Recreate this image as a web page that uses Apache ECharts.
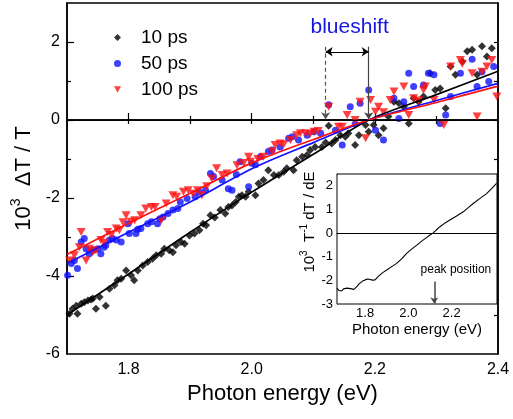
<!DOCTYPE html>
<html><head><meta charset="utf-8">
<script src="https://cdn.jsdelivr.net/npm/echarts@6/dist/echarts.min.js"></script>
<style>html,body{margin:0;padding:0;background:#fff}#c{width:513px;height:419px}</style>
</head><body><div id="c"></div>
<script>
const FONT = "'Liberation Sans', Arial, sans-serif";
// ---- data ----
const seriesNames = ['10 ps', '50 ps', '100 ps'];
const black10 = [[1.704,-4.97],[1.709,-4.84],[1.715,-4.76],[1.717,-4.97],[1.723,-4.71],[1.728,-4.67],[1.734,-4.63],[1.739,-4.60],[1.742,-4.58],[1.747,-4.84],[1.753,-4.54],[1.763,-4.76],[1.769,-4.33],[1.777,-4.24],[1.782,-4.11],[1.788,-4.07],[1.796,-3.86],[1.804,-3.98],[1.809,-4.11],[1.815,-3.86],[1.823,-3.73],[1.831,-3.64],[1.839,-3.56],[1.845,-3.47],[1.853,-3.43],[1.858,-3.30],[1.866,-3.34],[1.872,-3.39],[1.877,-3.21],[1.885,-3.13],[1.891,-3.17],[1.899,-2.96],[1.907,-2.91],[1.915,-2.83],[1.921,-2.66],[1.926,-2.70],[1.933,-2.44],[1.940,-2.50],[1.949,-2.31],[1.957,-2.40],[1.962,-2.23],[1.968,-2.19],[1.974,-2.10],[1.979,-1.97],[1.984,-1.93],[1.990,-1.97],[1.995,-1.84],[2.006,-1.93],[2.011,-1.63],[2.019,-1.54],[2.027,-1.29],[2.036,-1.41],[2.044,-1.41],[2.052,-1.33],[2.057,-1.24],[2.068,-1.29],[2.073,-1.03],[2.082,-0.94],[2.090,-0.90],[2.095,-0.77],[2.103,-0.69],[2.114,-0.69],[2.120,-0.58],[2.125,-0.15],[2.130,-0.60],[2.136,-0.51],[2.144,-0.39],[2.152,-0.43],[2.157,-0.34],[2.168,-0.64],[2.174,-0.39],[2.185,-0.13],[2.190,-0.30],[2.198,-0.13],[2.206,-0.39],[2.214,-0.21],[2.222,0.09],[2.231,0.47],[2.239,0.43],[2.247,0.34],[2.255,-0.09],[2.263,0.56],[2.271,0.47],[2.279,0.60],[2.290,1.20],[2.298,0.77],[2.306,0.81],[2.315,0.30],[2.323,1.37],[2.331,1.16],[2.342,1.50],[2.350,1.76],[2.358,1.80],[2.366,1.16],[2.374,1.89],[2.382,1.63],[2.390,1.84]];
const blue50 = [[1.701,-3.98],[1.707,-3.68],[1.712,-3.60],[1.717,-3.81],[1.723,-3.13],[1.728,-3.04],[1.731,-3.30],[1.736,-3.43],[1.742,-3.34],[1.750,-3.30],[1.755,-3.43],[1.760,-3.26],[1.763,-3.21],[1.769,-3.08],[1.774,-3.04],[1.780,-3.08],[1.788,-3.13],[1.799,-2.66],[1.801,-2.91],[1.812,-2.91],[1.815,-2.80],[1.820,-2.78],[1.831,-2.66],[1.837,-2.61],[1.847,-2.66],[1.851,-2.53],[1.856,-2.49],[1.864,-2.40],[1.872,-2.31],[1.880,-2.27],[1.884,-2.10],[1.895,-2.01],[1.908,-1.97],[1.915,-1.85],[1.925,-1.80],[1.933,-1.37],[1.938,-1.45],[1.952,-1.54],[1.962,-1.76],[1.968,-1.80],[1.975,-1.40],[1.981,-1.07],[1.995,-1.71],[2.000,-1.11],[2.006,-1.15],[2.014,-0.94],[2.027,-0.81],[2.033,-0.77],[2.046,-0.69],[2.060,-0.47],[2.066,-0.43],[2.076,-0.51],[2.090,-0.39],[2.101,-0.30],[2.112,-0.34],[2.125,0.39],[2.136,-0.26],[2.147,-0.64],[2.160,0.34],[2.168,-0.10],[2.176,0.43],[2.190,0.77],[2.201,-0.26],[2.214,-0.51],[2.231,0.56],[2.239,0.04],[2.247,0.47],[2.255,1.20],[2.263,0.86],[2.279,0.90],[2.287,1.20],[2.296,1.16],[2.306,-0.09],[2.315,0.13],[2.323,0.60],[2.339,1.20],[2.358,1.56],[2.366,0.86],[2.374,1.24],[2.385,0.99],[2.393,1.37]];
const red100 = [[1.704,-3.60],[1.712,-3.47],[1.720,-3.26],[1.723,-2.87],[1.731,-3.60],[1.736,-3.30],[1.742,-3.39],[1.747,-3.34],[1.755,-3.08],[1.760,-3.15],[1.766,-2.87],[1.772,-2.95],[1.780,-2.78],[1.785,-2.83],[1.791,-2.62],[1.796,-2.44],[1.804,-2.61],[1.810,-2.57],[1.820,-2.44],[1.828,-2.27],[1.837,-2.23],[1.843,-2.23],[1.853,-2.57],[1.861,-2.14],[1.872,-1.93],[1.878,-1.97],[1.889,-1.84],[1.897,-1.80],[1.905,-1.89],[1.912,-1.80],[1.919,-1.93],[1.927,-1.70],[1.935,-1.50],[1.943,-1.24],[1.952,-1.41],[1.960,-1.37],[1.976,-1.16],[1.987,-1.10],[1.995,-0.94],[1.998,-1.07],[2.010,-1.00],[2.019,-0.94],[2.033,-0.81],[2.038,-0.64],[2.046,-0.60],[2.052,-0.62],[2.063,-0.51],[2.073,-0.39],[2.079,-0.34],[2.087,-0.34],[2.095,-0.36],[2.101,-0.30],[2.108,-0.28],[2.125,0.34],[2.141,-0.17],[2.147,-0.17],[2.155,0.13],[2.168,0.00],[2.176,0.47],[2.185,-0.47],[2.193,0.51],[2.201,0.21],[2.206,0.34],[2.214,0.20],[2.225,0.51],[2.231,0.73],[2.247,0.86],[2.255,0.13],[2.263,0.56],[2.271,0.50],[2.279,0.77],[2.282,0.86],[2.296,0.51],[2.312,-0.13],[2.323,1.37],[2.339,1.54],[2.342,1.44],[2.358,1.20],[2.366,0.09],[2.374,1.24],[2.382,1.37],[2.390,1.54],[2.398,0.60]];
const fitX = [1.70, 1.80, 1.90, 2.00, 2.10, 2.19, 2.30, 2.40];
const blackFitY = [-5.00, -3.95, -2.88, -1.85, -0.88, 0.00, 0.65, 1.25];
const blueFitY = [-3.68, -2.88, -2.10, -1.25, -0.58, 0.00, 0.50, 0.94];
const redFitY = [-3.45, -2.65, -1.88, -1.10, -0.50, 0.00, 0.45, 0.87];
const insetX = [1.670,1.678,1.685,1.692,1.700,1.708,1.716,1.724,1.732,1.740,1.748,1.756,1.764,1.772,1.780,1.790,1.800,1.812,1.823,1.834,1.846,1.858,1.869,1.885,1.900,1.923,1.946,1.970,1.992,2.015,2.039,2.062,2.085,2.100,2.115,2.130,2.146,2.170,2.192,2.223,2.254,2.280,2.300,2.330,2.362,2.385,2.408];
const insetY = [-2.33,-2.42,-2.38,-2.45,-2.36,-2.38,-2.33,-2.38,-2.35,-2.40,-2.38,-2.33,-2.24,-2.15,-2.08,-2.02,-1.98,-1.94,-1.96,-1.99,-1.98,-1.86,-1.77,-1.65,-1.56,-1.42,-1.28,-1.08,-0.86,-0.68,-0.51,-0.34,-0.18,-0.08,0.01,0.14,0.27,0.43,0.55,0.72,0.90,1.10,1.25,1.46,1.67,1.88,2.10];
const mainXLabels = [1.8, 2.0, 2.2, 2.4];
const mainYLabels = [-6, -4, -2, 0, 2];
const insetXLabels = [1.8, 2.0, 2.2];
const insetYLabels = [-3, -2, -1, 0, 1, 2];
const blueshiftFrom = 2.12, blueshiftTo = 2.19, peakPosition = 2.12;

const zip = (xs, ys) => xs.map((x, i) => [x, ys[i]]);
const DOWN_TRI = 'path://M0,0 L10,0 L5,9 Z';
const C_BLACK = '#000000', C_BLUE = '#1010ff', C_RED = '#ff1010';

const chart = echarts.init(document.getElementById('c'), null, {renderer: 'canvas'});
const axisLineStyle = {show: true, lineStyle: {color: '#000', width: 1.5}};
const tickStyle = {color: '#000', width: 1.2};

const option = {
  animation: false,
  textStyle: {fontFamily: FONT},
  grid: [
    {left: 67, top: 3, right: 15, bottom: 65, show: true, borderColor: '#000', borderWidth: 1.5, backgroundColor: 'transparent'},
    {left: 337, top: 174, right: 16, bottom: 115, show: true, borderColor: '#000', borderWidth: 1, backgroundColor: '#fff', z: 3}
  ],
  legend: {
    data: seriesNames.map(n => ({name: n})),
    orient: 'vertical', left: 109, top: 23,
    itemWidth: 7, itemHeight: 7, itemGap: 7,
    textStyle: {fontSize: 19, color: '#000', fontFamily: FONT, lineHeight: 19, padding: [0, 0, 0, 15]},
    selectedMode: false
  },
  xAxis: [
    {gridIndex: 0, type: 'value', min: 1.7, max: 2.4, position: 'bottom', axisLine: axisLineStyle,
     axisTick: {inside: true, length: 7, customValues: [1.8, 2.0, 2.2], lineStyle: tickStyle},
     axisLabel: {customValues: mainXLabels, fontSize: 16, color: '#000', margin: 8, formatter: v => v.toFixed(1)},
     splitLine: {show: false},
     name: 'Photon energy (eV)', nameLocation: 'middle', nameGap: 28, nameTextStyle: {fontSize: 22, color: '#000'}},
    {gridIndex: 0, type: 'value', min: 1.7, max: 2.4, position: 'bottom', axisLine: {show: false},
     axisTick: {inside: true, length: 4, customValues: [1.9, 2.1, 2.3], lineStyle: tickStyle},
     axisLabel: {show: false}, splitLine: {show: false}},
    {gridIndex: 0, type: 'value', min: 1.7, max: 2.4, position: 'top', axisLine: axisLineStyle,
     axisTick: {inside: true, length: 4, customValues: [1.8, 1.9, 2.0, 2.1, 2.2, 2.3], lineStyle: tickStyle},
     axisLabel: {show: false}, splitLine: {show: false}},
    {gridIndex: 1, type: 'value', min: 1.67, max: 2.41, position: 'bottom', axisLine: {show: true, lineStyle: {color: '#000', width: 1}},
     axisTick: {inside: true, length: 3, customValues: [1.8, 1.9, 2.0, 2.1, 2.2, 2.3], lineStyle: {color: '#000'}},
     axisLabel: {customValues: insetXLabels, fontSize: 13, color: '#000', margin: 3, formatter: v => v.toFixed(1)},
     splitLine: {show: false},
     name: 'Photon energy (eV)', nameLocation: 'middle', nameGap: 18, nameTextStyle: {fontSize: 15, color: '#000'}},
    {gridIndex: 1, type: 'value', min: 1.67, max: 2.41, position: 'top', axisLine: {show: true, lineStyle: {color: '#000', width: 1}},
     axisTick: {inside: true, length: 3, customValues: [1.8, 1.9, 2.0, 2.1, 2.2, 2.3], lineStyle: {color: '#000'}},
     axisLabel: {show: false}, splitLine: {show: false}}
  ],
  yAxis: [
    {gridIndex: 0, type: 'value', min: -6, max: 3, position: 'left', axisLine: axisLineStyle,
     axisTick: {inside: true, length: 7, customValues: [-4, -2, 0, 2], lineStyle: tickStyle},
     axisLabel: {customValues: mainYLabels, fontSize: 16, color: '#000', margin: 7},
     splitLine: {show: false},
     name: '{n|10}{s|3}{n|  ΔT / T}', nameLocation: 'middle', nameGap: 31, nameRotate: 90,
     nameTextStyle: {rich: {n: {fontSize: 22, color: '#000', fontFamily: FONT, lineHeight: 26, verticalAlign: 'bottom'},
                            s: {fontSize: 14, color: '#000', fontFamily: FONT, lineHeight: 26, verticalAlign: 'top'}}}},
    {gridIndex: 0, type: 'value', min: -6, max: 3, position: 'left', axisLine: {show: false},
     axisTick: {inside: true, length: 4, customValues: [-5, -3, -1, 1], lineStyle: tickStyle},
     axisLabel: {show: false}, splitLine: {show: false}},
    {gridIndex: 0, type: 'value', min: -6, max: 3, position: 'right', axisLine: axisLineStyle,
     axisTick: {inside: true, length: 4, customValues: [-5, -4, -3, -2, -1, 0, 1, 2], lineStyle: tickStyle},
     axisLabel: {show: false}, splitLine: {show: false}},
    {gridIndex: 1, type: 'value', min: -3, max: 2.5, position: 'left', axisLine: {show: true, lineStyle: {color: '#000', width: 1}},
     axisTick: {inside: true, length: 3, customValues: [-2, -1, 0, 1, 2], lineStyle: {color: '#000'}},
     axisLabel: {customValues: insetYLabels, fontSize: 13, color: '#000', margin: 4},
     splitLine: {show: false},
     name: '{n|10}{s|3}{n|  T}{s|-1}{n| dT / dE}', nameLocation: 'middle', nameGap: 19, nameRotate: 90,
     nameTextStyle: {padding: [0, 0, 0, 34], rich: {n: {fontSize: 15, color: '#000', fontFamily: FONT, lineHeight: 18, verticalAlign: 'bottom'},
                            s: {fontSize: 10, color: '#000', fontFamily: FONT, lineHeight: 18, verticalAlign: 'top'}}}}
  ],
  series: [
    {name: '10 ps', type: 'scatter', xAxisIndex: 0, yAxisIndex: 0, data: black10, symbol: 'diamond', symbolSize: 8,
     itemStyle: {color: C_BLACK}, z: 3},
    {name: '50 ps', type: 'scatter', xAxisIndex: 0, yAxisIndex: 0, data: blue50, symbol: 'circle', symbolSize: 7,
     itemStyle: {color: C_BLUE}, z: 3},
    {name: '100 ps', type: 'scatter', xAxisIndex: 0, yAxisIndex: 0, data: red100, symbol: DOWN_TRI, symbolSize: [9, 8],
     itemStyle: {color: C_RED}, z: 3},
    {name: 'fit10', type: 'line', xAxisIndex: 0, yAxisIndex: 0, data: zip(fitX, blackFitY), smooth: 0.3, showSymbol: false,
     lineStyle: {color: C_BLACK, width: 1.7}, z: 4, silent: true,
     markLine: {silent: true, symbol: 'none', label: {show: false}, animation: false,
       data: [
         {yAxis: 0, lineStyle: {color: '#000', width: 1, type: 'solid'}},
         [{coord: [blueshiftFrom, 1.88], symbol: 'none', lineStyle: {color: '#555', width: 1.2, type: [4, 3]}},
          {coord: [blueshiftFrom, 0.02], symbol: 'arrow', symbolSize: 7}],
         [{coord: [blueshiftTo, 1.88], symbol: 'none', lineStyle: {color: '#444', width: 1.2, type: 'solid'}},
          {coord: [blueshiftTo, 0.02], symbol: 'arrow', symbolSize: 7}],
         [{coord: [blueshiftFrom, 1.75], symbol: 'arrow', symbolSize: 7, lineStyle: {color: '#000', width: 1.2, type: 'solid'}},
          {coord: [blueshiftTo, 1.75], symbol: 'arrow', symbolSize: 7}]
       ]},
     markPoint: {silent: true, symbol: 'circle', symbolSize: 0, animation: false,
       data: [{coord: [2.159, 2.37], label: {show: true, position: 'inside', formatter: 'blueshift', fontSize: 21, color: '#1414e6', fontFamily: FONT}}]}},
    {name: 'fit50', type: 'line', xAxisIndex: 0, yAxisIndex: 0, data: zip(fitX, blueFitY), smooth: 0.3, showSymbol: false,
     lineStyle: {color: C_BLUE, width: 1.7}, z: 4, silent: true},
    {name: 'fit100', type: 'line', xAxisIndex: 0, yAxisIndex: 0, data: zip(fitX, redFitY), smooth: 0.3, showSymbol: false,
     lineStyle: {color: C_RED, width: 1.7}, z: 4, silent: true},
    {name: 'inset', type: 'line', xAxisIndex: 3, yAxisIndex: 3, data: zip(insetX, insetY), showSymbol: false,
     lineStyle: {color: '#000', width: 1.1}, z: 5, silent: true,
     markLine: {silent: true, symbol: 'none', label: {show: false}, animation: false,
       data: [
         {yAxis: 0, lineStyle: {color: '#000', width: 1, type: 'solid'}},
         [{coord: [peakPosition, -2.05], symbol: 'none', lineStyle: {color: '#444', width: 1.5, type: 'solid'}},
          {coord: [peakPosition, -2.98], symbol: 'arrow', symbolSize: 6}]
       ]},
     markPoint: {silent: true, symbol: 'circle', symbolSize: 0, animation: false,
       data: [{coord: [2.22, -1.56], label: {show: true, position: 'inside', formatter: 'peak position', fontSize: 12, color: '#000', fontFamily: FONT}}]}}
  ]
};
chart.setOption(option);
</script></body></html>
